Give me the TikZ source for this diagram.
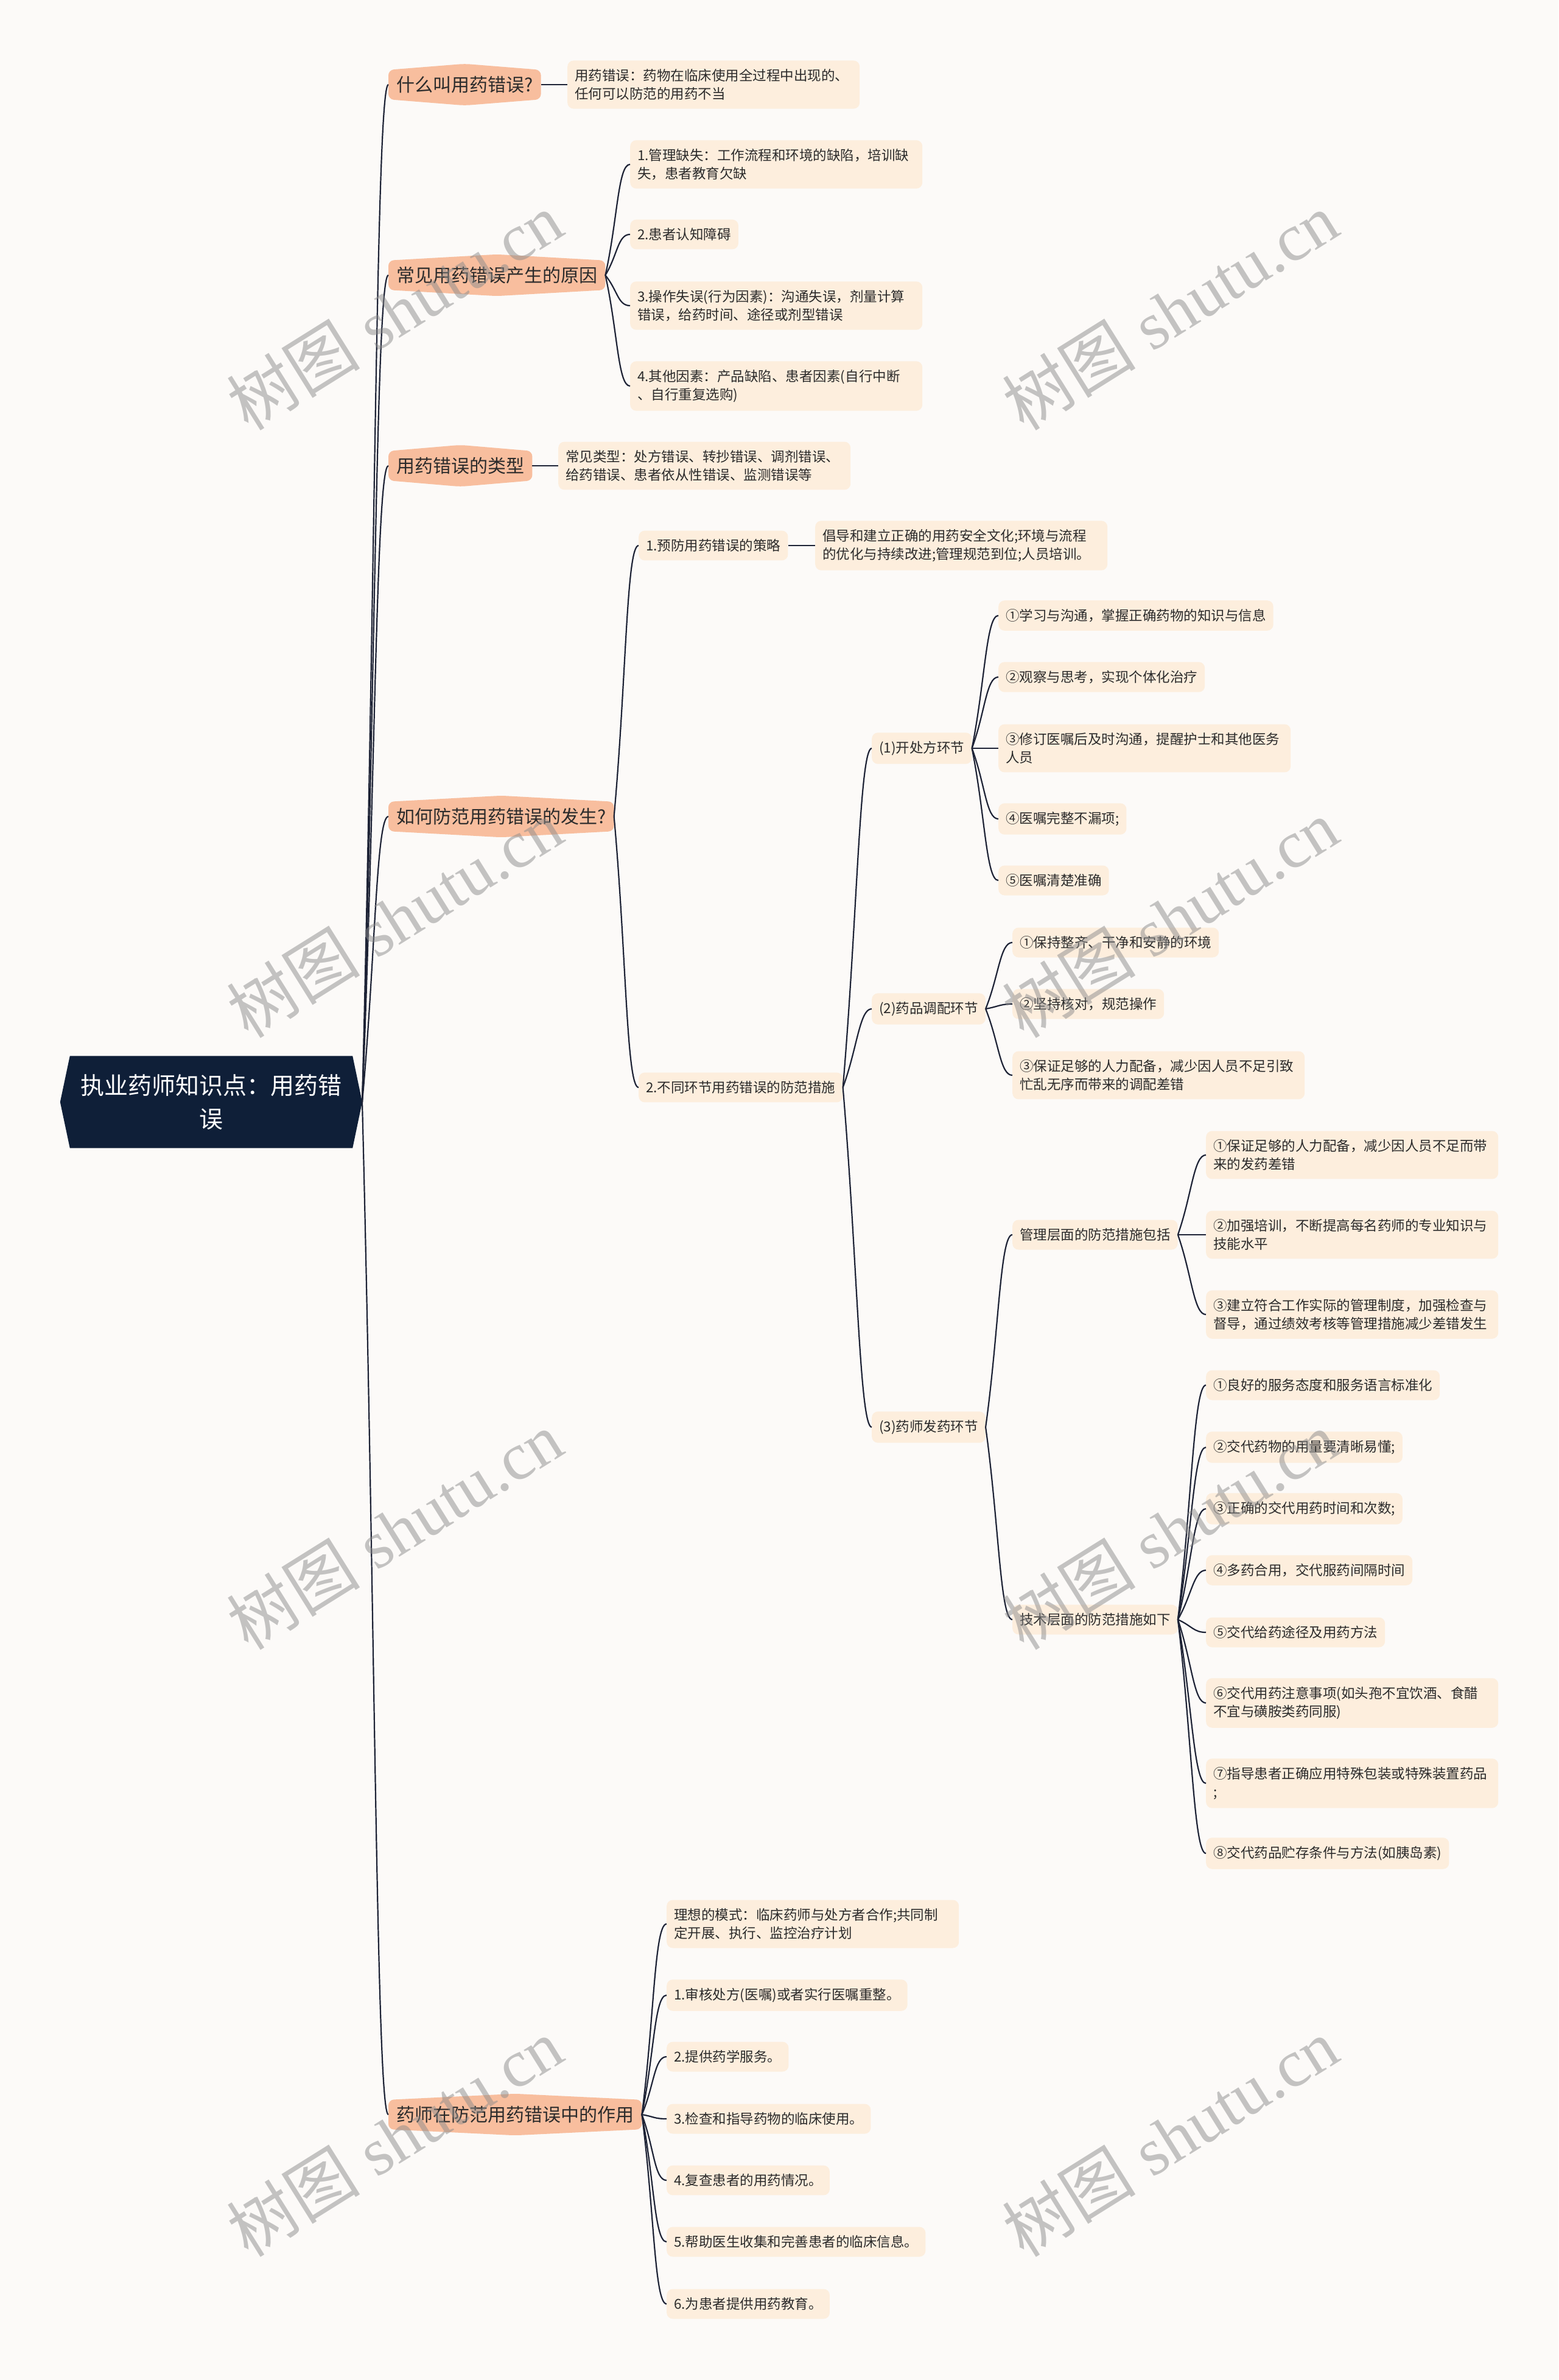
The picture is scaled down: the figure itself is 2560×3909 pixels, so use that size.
\documentclass[tikz,border=0pt]{standalone}
\usepackage{fontspec}
\newfontfamily\cjk{Noto Sans CJK SC}
\newfontfamily\wmfont{Liberation Serif}
\usetikzlibrary{calc,backgrounds}
\definecolor{bgcol}{HTML}{FCFAF8}
\definecolor{rootcol}{HTML}{0F1F38}
\definecolor{topiccol}{HTML}{F8BE9E}
\definecolor{leafcol}{HTML}{FDEEDD}
\definecolor{linecol}{HTML}{1E2336}
\definecolor{txtcol}{HTML}{2B2B2B}

\begin{document}
\begin{tikzpicture}[x=1pt, y=-1pt,
  rootnode/.style={text=white, font=\cjk\fontsize{39}{55}\selectfont, align=center, minimum width=464pt, minimum height=151pt, inner sep=0pt},
  topic/.style={anchor=west, text=txtcol, font=\cjk\fontsize{30}{36}\selectfont, inner xsep=13pt, inner ysep=9pt, minimum height=48pt},
  leaf/.style={anchor=west, fill=leafcol, rounded corners=10pt, text=txtcol, font=\cjk\fontsize{22.5}{30}\selectfont, inner xsep=12pt, inner ysep=14pt, align=left},
  leafwrap/.style={leaf, text width=456pt},
  branch/.style={to path={.. controls ($(\tikztostart)!0.5!(\tikztotarget)$) and ($(\tikztotarget)+(-20,0)$) .. (\tikztotarget)}},
  link/.style={draw=linecol, line width=2.2pt},
  wmark/.style={rotate=32, text=black!45, text opacity=0.5, font=\wmfont\fontsize{110}{110}\selectfont}]
\useasboundingbox (0,0) rectangle (2560,3909);
% root
\node[rootnode] (P_0_0) at (347,1810) {执业药师知识点：用药错\\误};
\coordinate (P_0_0tip) at (595,1810);
% what is it
\node[topic] (P_1_0) at (638,139) {什么叫用药错误?};
\draw[link, branch] (P_0_0tip) to (P_1_0.west);
\node[leafwrap] (P_2_0) at (932,139) {用药错误：药物在临床使用全过程中出现的、\\任何可以防范的用药不当};
\draw[link] (P_1_0.east) -- (P_2_0.west);
% causes
\node[topic] (P_1_1) at (638,452) {常见用药错误产生的原因};
\draw[link, branch] (P_0_0tip) to (P_1_1.west);
\node[leafwrap] (P_2_1) at (1035,270) {1.管理缺失：工作流程和环境的缺陷，培训缺\\失，患者教育欠缺};
\draw[link, branch] (P_1_1.east) to (P_2_1.west);
\node[leaf] (P_2_2) at (1035,385) {2.患者认知障碍};
\draw[link, branch] (P_1_1.east) to (P_2_2.west);
\node[leafwrap] (P_2_3) at (1035,502) {3.操作失误(行为因素)：沟通失误，剂量计算\\错误，给药时间、途径或剂型错误};
\draw[link, branch] (P_1_1.east) to (P_2_3.west);
\node[leafwrap] (P_2_4) at (1035,634) {4.其他因素：产品缺陷、患者因素(自行中断\\、自行重复选购)};
\draw[link, branch] (P_1_1.east) to (P_2_4.west);
% types
\node[topic] (P_1_2) at (638,765) {用药错误的类型};
\draw[link, branch] (P_0_0tip) to (P_1_2.west);
\node[leafwrap] (P_2_5) at (917,765) {常见类型：处方错误、转抄错误、调剂错误、\\给药错误、患者依从性错误、监测错误等};
\draw[link] (P_1_2.east) -- (P_2_5.west);
% prevention
\node[topic] (P_1_3) at (638,1341) {如何防范用药错误的发生?};
\draw[link, branch] (P_0_0tip) to (P_1_3.west);
\node[leaf] (P_2_6) at (1049,896) {1.预防用药错误的策略};
\draw[link, branch] (P_1_3.east) to (P_2_6.west);
\node[leafwrap] (P_3_0) at (1339,896) {倡导和建立正确的用药安全文化;环境与流程\\的优化与持续改进;管理规范到位;人员培训。};
\draw[link] (P_2_6.east) -- (P_3_0.west);
\node[leaf] (P_2_7) at (1049,1786) {2.不同环节用药错误的防范措施};
\draw[link, branch] (P_1_3.east) to (P_2_7.west);
\node[leaf] (P_3_1) at (1432,1229) {(1)开处方环节};
\draw[link, branch] (P_2_7.east) to (P_3_1.west);
\node[leaf] (P_4_0) at (1640,1011) {①学习与沟通，掌握正确药物的知识与信息};
\draw[link, branch] (P_3_1.east) to (P_4_0.west);
\node[leaf] (P_4_1) at (1640,1112) {②观察与思考，实现个体化治疗};
\draw[link, branch] (P_3_1.east) to (P_4_1.west);
\node[leafwrap] (P_4_2) at (1640,1229) {③修订医嘱后及时沟通，提醒护士和其他医务\\人员};
\draw[link, branch] (P_3_1.east) to (P_4_2.west);
\node[leaf] (P_4_3) at (1640,1345) {④医嘱完整不漏项;};
\draw[link, branch] (P_3_1.east) to (P_4_3.west);
\node[leaf] (P_4_4) at (1640,1446) {⑤医嘱清楚准确};
\draw[link, branch] (P_3_1.east) to (P_4_4.west);
\node[leaf] (P_3_2) at (1432,1657) {(2)药品调配环节};
\draw[link, branch] (P_2_7.east) to (P_3_2.west);
\node[leaf] (P_4_5) at (1663,1548) {①保持整齐、干净和安静的环境};
\draw[link, branch] (P_3_2.east) to (P_4_5.west);
\node[leaf] (P_4_6) at (1663,1649) {②坚持核对，规范操作};
\draw[link, branch] (P_3_2.east) to (P_4_6.west);
\node[leafwrap] (P_4_7) at (1663,1766) {③保证足够的人力配备，减少因人员不足引致\\忙乱无序而带来的调配差错};
\draw[link, branch] (P_3_2.east) to (P_4_7.west);
\node[leaf] (P_3_3) at (1432,2344) {(3)药师发药环节};
\draw[link, branch] (P_2_7.east) to (P_3_3.west);
\node[leaf] (P_4_8) at (1663,2028) {管理层面的防范措施包括};
\draw[link, branch] (P_3_3.east) to (P_4_8.west);
\node[leafwrap] (P_5_0) at (1981,1897) {①保证足够的人力配备，减少因人员不足而带\\来的发药差错};
\draw[link, branch] (P_4_8.east) to (P_5_0.west);
\node[leafwrap] (P_5_1) at (1981,2028) {②加强培训，不断提高每名药师的专业知识与\\技能水平};
\draw[link, branch] (P_4_8.east) to (P_5_1.west);
\node[leafwrap] (P_5_2) at (1981,2159) {③建立符合工作实际的管理制度，加强检查与\\督导，通过绩效考核等管理措施减少差错发生};
\draw[link, branch] (P_4_8.east) to (P_5_2.west);
\node[leaf] (P_4_9) at (1663,2660) {技术层面的防范措施如下};
\draw[link, branch] (P_3_3.east) to (P_4_9.west);
\node[leaf] (P_5_3) at (1981,2275) {①良好的服务态度和服务语言标准化};
\draw[link, branch] (P_4_9.east) to (P_5_3.west);
\node[leaf] (P_5_4) at (1981,2377) {②交代药物的用量要清晰易懂;};
\draw[link, branch] (P_4_9.east) to (P_5_4.west);
\node[leaf] (P_5_5) at (1981,2478) {③正确的交代用药时间和次数;};
\draw[link, branch] (P_4_9.east) to (P_5_5.west);
\node[leaf] (P_5_6) at (1981,2579) {④多药合用，交代服药间隔时间};
\draw[link, branch] (P_4_9.east) to (P_5_6.west);
\node[leaf] (P_5_7) at (1981,2681) {⑤交代给药途径及用药方法};
\draw[link, branch] (P_4_9.east) to (P_5_7.west);
\node[leafwrap] (P_5_8) at (1981,2797) {⑥交代用药注意事项(如头孢不宜饮酒、食醋\\不宜与磺胺类药同服)};
\draw[link, branch] (P_4_9.east) to (P_5_8.west);
\node[leafwrap] (P_5_9) at (1981,2929) {⑦指导患者正确应用特殊包装或特殊装置药品\\;};
\draw[link, branch] (P_4_9.east) to (P_5_9.west);
\node[leaf] (P_5_10) at (1981,3044) {⑧交代药品贮存条件与方法(如胰岛素)};
\draw[link, branch] (P_4_9.east) to (P_5_10.west);
% role of the pharmacist
\node[topic] (P_1_4) at (638,3473) {药师在防范用药错误中的作用};
\draw[link, branch] (P_0_0tip) to (P_1_4.west);
\node[leafwrap] (P_2_8) at (1095,3160) {理想的模式：临床药师与处方者合作;共同制\\定开展、执行、监控治疗计划};
\draw[link, branch] (P_1_4.east) to (P_2_8.west);
\node[leaf] (P_2_9) at (1095,3277) {1.审核处方(医嘱)或者实行医嘱重整。};
\draw[link, branch] (P_1_4.east) to (P_2_9.west);
\node[leaf] (P_2_10) at (1095,3378) {2.提供药学服务。};
\draw[link, branch] (P_1_4.east) to (P_2_10.west);
\node[leaf] (P_2_11) at (1095,3480) {3.检查和指导药物的临床使用。};
\draw[link, branch] (P_1_4.east) to (P_2_11.west);
\node[leaf] (P_2_12) at (1095,3581) {4.复查患者的用药情况。};
\draw[link, branch] (P_1_4.east) to (P_2_12.west);
\node[leaf] (P_2_13) at (1095,3682) {5.帮助医生收集和完善患者的临床信息。};
\draw[link, branch] (P_1_4.east) to (P_2_13.west);
\node[leaf] (P_2_14) at (1095,3784) {6.为患者提供用药教育。};
\draw[link, branch] (P_1_4.east) to (P_2_14.west);
% shapes behind
\begin{scope}[on background layer]
\fill[bgcol] (0,0) rectangle (2560,3909);
\fill[rootcol] ([xshift=-16pt]P_0_0.west) -- (P_0_0.north west) -- (P_0_0.north east) -- (P_0_0tip) -- (P_0_0.south east) -- (P_0_0.south west) -- cycle;
\foreach \n in {P_1_0,P_1_1,P_1_2,P_1_3,P_1_4}
  \fill[topiccol, rounded corners=9pt] (\n.west) -- (\n.north west) -- ([yshift=10pt]\n.north) -- (\n.north east) -- (\n.east) -- (\n.south east) -- ([yshift=-10pt]\n.south) -- (\n.south west) -- cycle;
\end{scope}
% watermarks
\foreach \i/\p in {0/{(648,511)},1/{(1922,511)},2/{(648,1508)},3/{(1922,1508)},4/{(648,2513)},5/{(1922,2513)},6/{(648,3510)},7/{(1922,3510)}}
  \node[wmark] (W_\i) at \p {{\cjk 树图} shutu.cn};
\end{tikzpicture}
\end{document}
